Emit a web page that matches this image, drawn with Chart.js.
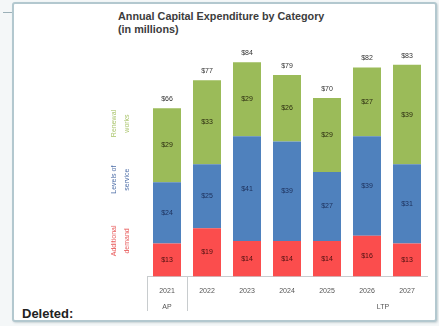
<!DOCTYPE html>
<html>
<head>
<meta charset="utf-8">
<script src="https://cdn.jsdelivr.net/npm/chart.js@4.4.1/dist/chart.umd.min.js"></script>
<style>
    body { margin: 0; background: #f4f7f8; font-family: "Liberation Sans", Arial, sans-serif; }
    #wrap { position: relative; width: 439px; height: 326px; overflow: hidden; }
    .balloon {
        position: absolute; left: 12px; top: 2px; width: 421px; height: 316px;
        background: #fff; border: 2px solid #b3c8cf; border-radius: 3px;
        box-shadow: 1px 1px 2px #c9d3d6;
    }
    .connector { position: absolute; left: 3px; top: 12px; width: 9px; border-top: 1px solid #9bb0b8; }
    .title { position: absolute; left: 118px; top: 10px; font-size: 10.8px; font-weight: bold; color: #3c3c3c; line-height: 13px; }
    .deleted { position: absolute; left: 22px; top: 306px; font-size: 13px; font-weight: bold; color: #222; }
    canvas { position: absolute; left: 0; top: 0; }
</style>
</head>
<body>
<div id="wrap">
    <div class="connector"></div>
    <div class="balloon"></div>
    <div class="title">Annual Capital Expenditure by Category<br>(in millions)</div>
    <div class="deleted">Deleted:</div>
    <canvas id="capexChart" width="439" height="326"></canvas>
</div>
<script>
const years = ['2021', '2022', '2023', '2024', '2025', '2026', '2027'];
const additionalDemand = [13, 19, 14, 14, 14, 16, 13];
const levelsOfService = [24, 25, 41, 39, 27, 39, 31];
const renewals = [29, 33, 29, 26, 29, 27, 39];

const seriesLabels = [
    { lines: ['Additional', 'demand'], color: '#e85a5a', at: 14 },
    { lines: ['Levels of', 'service'], color: '#4f6fa8', at: 38 },
    { lines: ['Renewal', 'works'], color: '#a9c46a', at: 60 }
];

// value labels, totals, side captions and the AP / LTP grouping
const decorations = {
    id: 'decorations',
    afterDatasetsDraw(chart) {
        const ctx = chart.ctx;
        const x = chart.scales.x;
        const y = chart.scales.y;
        ctx.save();
        ctx.font = '7px "Liberation Sans", Arial, sans-serif';
        ctx.textAlign = 'center';
        ctx.textBaseline = 'middle';

        const textColors = ['#4a1010', '#1c2f5a', '#2b2b10'];
        chart.data.datasets.forEach((ds, di) => {
            const meta = chart.getDatasetMeta(di);
            meta.data.forEach((bar, i) => {
                ctx.fillStyle = textColors[di];
                ctx.fillText('$' + ds.data[i], bar.x, (bar.y + bar.base) / 2);
            });
        });

        ctx.fillStyle = '#333';
        years.forEach((yr, i) => {
            const total = additionalDemand[i] + levelsOfService[i] + renewals[i];
            ctx.fillText('$' + total, x.getPixelForValue(i), y.getPixelForValue(total) - 9);
        });

        // rotated captions on the left
        seriesLabels.forEach(s => {
            const cy = y.getPixelForValue(s.at);
            ctx.fillStyle = s.color;
            s.lines.forEach((line, li) => {
                ctx.save();
                ctx.translate(114 + li * 13, cy);
                ctx.rotate(-Math.PI / 2);
                ctx.fillText(line, 0, 0);
                ctx.restore();
            });
        });

        // group separators below the axis
        const step = x.getPixelForValue(1) - x.getPixelForValue(0);
        const left = x.getPixelForValue(0) - step / 2;
        const split = x.getPixelForValue(0) + step / 2;
        ctx.strokeStyle = '#c8ccce';
        ctx.lineWidth = 1;
        [left, split].forEach(px => {
            ctx.beginPath();
            ctx.moveTo(Math.round(px) + 0.5, y.bottom);
            ctx.lineTo(Math.round(px) + 0.5, 311);
            ctx.stroke();
        });
        ctx.fillStyle = '#555';
        ctx.fillText('AP', x.getPixelForValue(0), 307);
        ctx.fillText('LTP', 383, 307);
        ctx.restore();
    }
};

new Chart(document.getElementById('capexChart').getContext('2d'), {
    type: 'bar',
    data: {
        labels: years,
        datasets: [
            { label: 'Additional demand', data: additionalDemand, backgroundColor: '#fb4d4d' },
            { label: 'Levels of service', data: levelsOfService, backgroundColor: '#4f81bd' },
            { label: 'Renewal works', data: renewals, backgroundColor: '#9bbb59' }
        ]
    },
    options: {
        responsive: false,
        animation: false,
        layout: { padding: { left: 147, right: 12, top: 47, bottom: 21 } },
        datasets: { bar: { categoryPercentage: 1, barPercentage: 0.7 } },
        plugins: { legend: { display: false }, tooltip: { enabled: false } },
        scales: {
            x: {
                stacked: true,
                border: { color: '#c8ccce' },
                grid: { offset: true, drawOnChartArea: false, drawTicks: false, tickLength: 8 },
                ticks: { color: '#555', padding: 10, font: { size: 7, family: '"Liberation Sans", Arial, sans-serif' } }
            },
            y: {
                stacked: true,
                display: false,
                min: 0,
                max: 90
            }
        }
    },
    plugins: [decorations]
});
</script>
</body>
</html>
